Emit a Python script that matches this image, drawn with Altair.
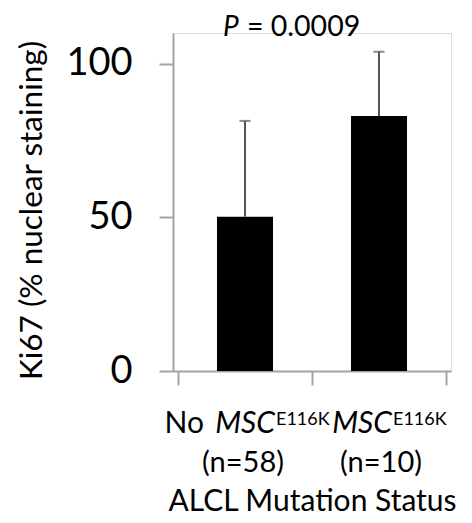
import altair as alt
import pandas as pd

# ---- data ----
categories = ["No MSC E116K (n=58)", "MSC E116K (n=10)"]
label_prefix = ["No", ""]
label_gene = ["MSC", "MSC"]
label_sup = ["E116K", "E116K"]
label_n = ["(n=58)", "(n=10)"]
means = [50.2, 83.0]
upper = [81.4, 103.9]
y_ticks = [0, 50, 100]
x_ticks = [0, 1, 2]
p_label_italic = "P"
p_label_rest = "= 0.0009"

df = pd.DataFrame({
    "category": categories,
    "idx": list(range(len(categories))),
    "mean": means,
    "upper": upper,
    "prefix": label_prefix,
    "gene": label_gene,
    "sup": label_sup,
    "n": label_n,
})

FONT = "Lato"
AXIS_GRAY = "#a3a3a3"
ERR_GRAY = "#555555"

base = alt.Chart(df).transform_calculate(pos="datum.idx + 0.5")

xscale = alt.Scale(domain=[0, 2], nice=False, zero=False)
yscale = alt.Scale(domain=[0, 110], nice=False)

x_enc = alt.X(
    "pos:Q",
    scale=xscale,
    axis=alt.Axis(
        values=x_ticks,
        labels=False,
        grid=False,
        tickSize=14,
        tickWidth=2,
        tickColor=AXIS_GRAY,
        domainColor=AXIS_GRAY,
        domainWidth=2,
        title="ALCL Mutation Status",
        titleFontSize=30,
        titleFontWeight="normal",
        titleFont=FONT,
        titleColor="black",
        titleBaseline="alphabetic",
        titleY=139,
        titleX=139,
        titleAlign="center",
    ),
)

bars = base.mark_bar(size=56, color="black").encode(
    x=x_enc,
    y=alt.Y(
        "mean:Q",
        scale=yscale,
        axis=alt.Axis(
            values=y_ticks,
            grid=False,
            tickSize=14,
            tickWidth=2,
            tickColor=AXIS_GRAY,
            domainColor=AXIS_GRAY,
            domainWidth=2,
            labelFontSize=38,
            labelFont=FONT,
            labelColor="black",
            labelPadding=27,
            title="Ki67 (% nuclear staining)",
            titleFontSize=31.5,
            titleFontWeight="normal",
            titleFont=FONT,
            titleColor="black",
            titleAngle=270,
            titleBaseline="alphabetic",
            titleAlign="center",
            titleX=-132,
            titleY=177,
        ),
    ),
)

err = base.mark_rule(color=ERR_GRAY, strokeWidth=2).encode(
    x=alt.X("pos:Q", scale=xscale),
    y=alt.Y("mean:Q", scale=yscale),
    y2="upper:Q",
)

caps = base.mark_tick(color=ERR_GRAY, orient="horizontal", size=11, thickness=2).encode(
    x=alt.X("pos:Q", scale=xscale),
    y=alt.Y("upper:Q", scale=yscale),
)

# category labels (mixed styles), offsets relative to each bar centre
offsets = {
    0: {"gene_end": 30, "sup_start": 31, "n_dx": -2, "pre_end": -41},
    1: {"gene_end": 13, "sup_start": 14, "n_dx": 2, "pre_end": 0},
}

label_layers = []
for i in range(len(categories)):
    o = offsets[i]
    b = base.transform_filter(alt.datum.idx == i)
    gene = b.mark_text(
        font=FONT, fontSize=30, fontStyle="italic", align="right",
        baseline="alphabetic", dx=o["gene_end"], color="black",
    ).encode(x=alt.X("pos:Q", scale=xscale), y=alt.value(400), text="gene:N")
    sup = b.mark_text(
        font=FONT, fontSize=18, align="left",
        baseline="alphabetic", dx=o["sup_start"], color="black",
    ).encode(x=alt.X("pos:Q", scale=xscale), y=alt.value(392), text="sup:N")
    nlab = b.mark_text(
        font=FONT, fontSize=29, align="center",
        baseline="alphabetic", dx=o["n_dx"], color="black",
    ).encode(x=alt.X("pos:Q", scale=xscale), y=alt.value(439), text="n:N")
    label_layers += [gene, sup, nlab]
    if label_prefix[i]:
        pre = b.mark_text(
            font=FONT, fontSize=30, align="right",
            baseline="alphabetic", dx=o["pre_end"], color="black",
        ).encode(x=alt.X("pos:Q", scale=xscale), y=alt.value(400), text="prefix:N")
        label_layers.append(pre)

ptitle_df = pd.DataFrame({"a": [p_label_italic], "b": [p_label_rest]})
p1 = alt.Chart(ptitle_df).mark_text(
    font=FONT, fontSize=28, fontStyle="italic", align="left", baseline="alphabetic", color="black"
).encode(x=alt.value(50), y=alt.value(2.5), text="a:N")
p2 = alt.Chart(ptitle_df).mark_text(
    font=FONT, fontSize=28.5, align="left", baseline="alphabetic", color="black"
).encode(x=alt.value(74), y=alt.value(2.5), text="b:N")

chart = alt.layer(bars, err, caps, *label_layers, p1, p2).properties(
    width=278,
    height=338,
    autosize=alt.AutoSizeParams(type="none"),
    padding={"left": 165, "top": 25, "right": 13, "bottom": 144},
).configure_view(stroke=None).configure(font=FONT, background="white")

chart.save("out.html", embed_options={"renderer": "svg", "actions": False})
